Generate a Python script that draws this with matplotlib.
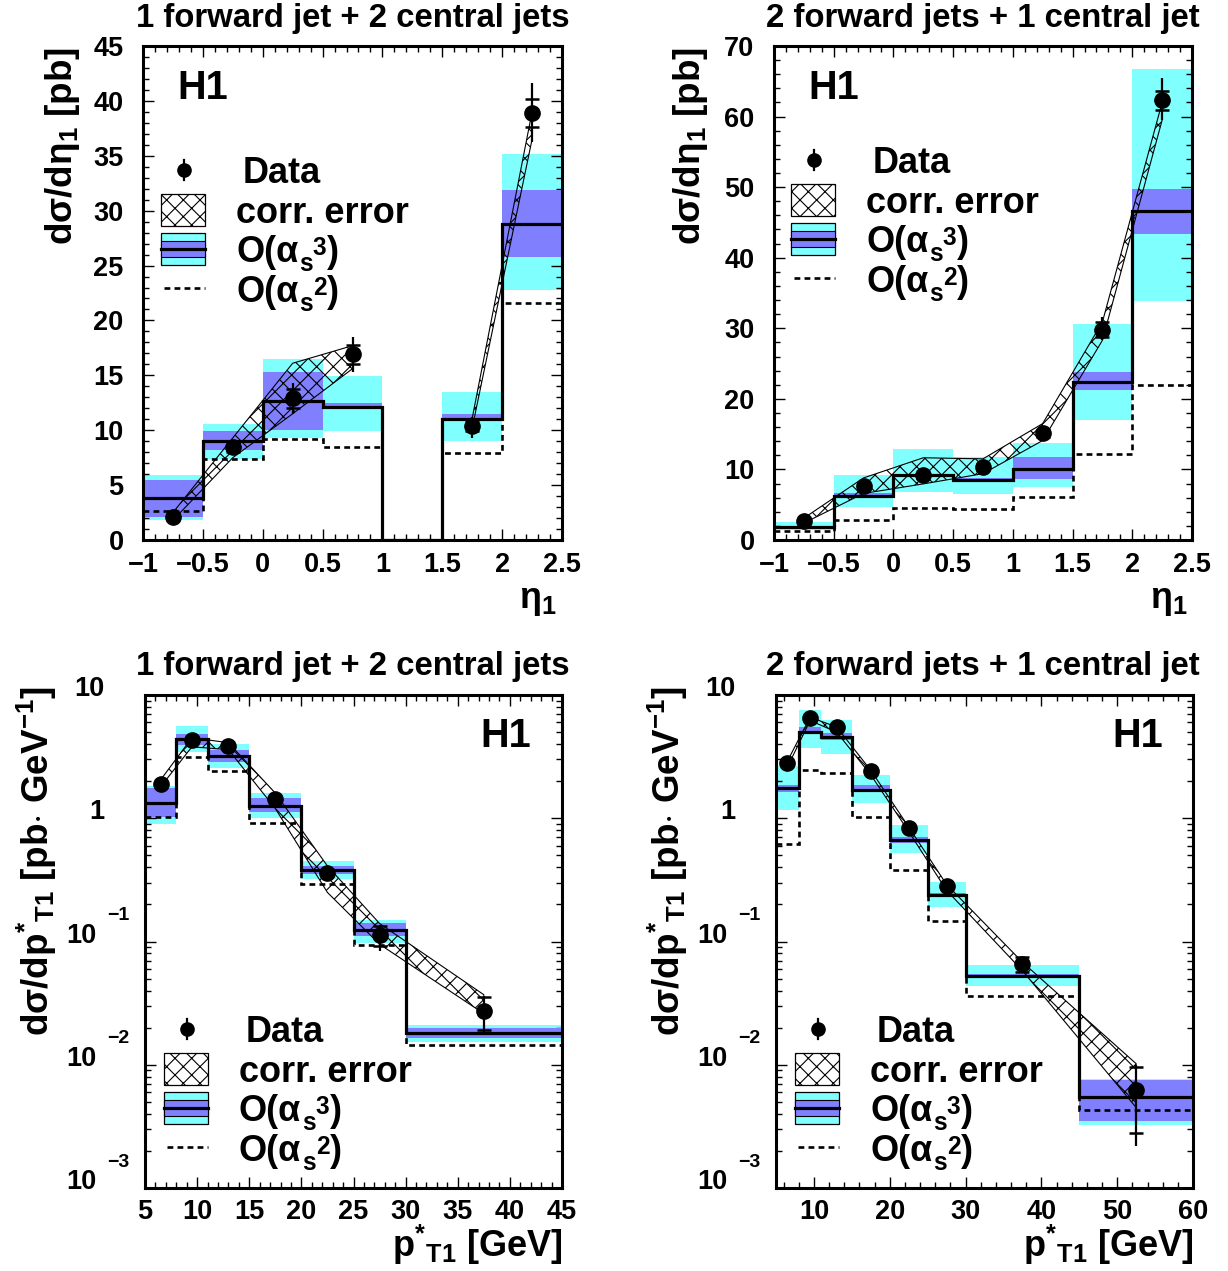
import numpy as np
import matplotlib
matplotlib.use('Agg')
import matplotlib.pyplot as plt
from matplotlib.patches import Rectangle
from matplotlib.lines import Line2D
from matplotlib.transforms import IdentityTransform
from matplotlib.ticker import MultipleLocator, FixedLocator, NullFormatter, FuncFormatter

plt.rcParams['font.family'] = ['Liberation Sans', 'DejaVu Sans']
plt.rcParams['font.weight'] = 'bold'
plt.rcParams['mathtext.fontset'] = 'custom'
plt.rcParams['mathtext.rm'] = 'Liberation Sans:bold'
plt.rcParams['mathtext.it'] = 'Liberation Sans:bold'
plt.rcParams['mathtext.bf'] = 'Liberation Sans:bold'
plt.rcParams['mathtext.sf'] = 'Liberation Sans:bold'
plt.rcParams['mathtext.default'] = 'rm'
plt.rcParams['hatch.linewidth'] = 0.8
plt.rcParams['axes.unicode_minus'] = True

nan = np.nan
CYAN = '#80ffff'
BLUE = '#8080ff'

# ---------------- data ----------------
titles = ['1 forward jet + 2 central jets', '2 forward jets + 1 central jet',
          '1 forward jet + 2 central jets', '2 forward jets + 1 central jet']

# (a) d sigma / d eta1, 1 forward + 2 central jets
eta_edges = [-1, -0.5, 0, 0.5, 1, 1.5, 2, 2.5]
a_nlo = [3.8, 9.0, 12.7, 12.1, 0, 11.0, 28.8]
a_tot_lo = [1.8, 7.4, 9.3, 9.9, nan, 9.0, 22.8]
a_tot_hi = [5.9, 10.6, 16.5, 14.9, nan, 13.5, 35.2]
a_scl_lo = [2.1, 8.2, 10.0, 12.0, nan, 10.9, 25.8]
a_scl_hi = [5.5, 9.9, 15.3, 12.5, nan, 11.5, 31.9]
a_lo = [2.6, 7.4, 9.2, 8.5, 0, 7.9, 21.6]
a_data = [2.1, 8.5, 12.9, 16.9, nan, 10.4, 38.9]
a_err_up = [0.4, 0.6, 1.4, 1.6, nan, 0.8, 2.7]
a_err_dn = [0.4, 0.6, 1.4, 1.6, nan, 1.1, 2.6]
a_stat = [0.3, 0.5, 0.85, 0.9, nan, 0.5, 1.25]
a_corr_lo = [1.8, 7.5, 11.5, 15.6, nan, 10.2, 36.5]
a_corr_hi = [2.5, 9.3, 16.1, 17.7, nan, 11.1, 39.0]

# (b) d sigma / d eta1, 2 forward + 1 central jet
b_nlo = [1.8, 6.3, 9.15, 8.5, 10.1, 22.4, 46.6]
b_tot_lo = [1.45, 4.65, 6.8, 6.55, 7.5, 17.05, 33.9]
b_tot_hi = [2.5, 9.15, 12.9, 11.7, 13.7, 30.6, 66.7]
b_scl_lo = [1.6, 6.0, 8.9, 8.2, 8.7, 21.2, 43.4]
b_scl_hi = [1.9, 6.6, 9.4, 8.8, 11.7, 23.8, 49.8]
b_lo = [1.25, 2.85, 4.5, 4.4, 6.1, 12.2, 22.0]
b_data = [2.75, 7.7, 9.15, 10.3, 15.15, 29.8, 62.3]
b_err_up = [0.4, 0.5, 0.6, 0.6, 0.8, 1.8, 3.1]
b_err_dn = [0.4, 0.5, 0.6, 0.6, 0.8, 1.5, 2.8]
b_stat = [0.2, 0.3, 0.4, 0.4, 0.5, 1.1, 1.3]
b_corr_lo = [2.4, 6.6, 7.95, 9.4, 14.1, 28.3, 59.5]
b_corr_hi = [3.1, 8.8, 11.65, 11.5, 16.5, 30.9, 62.0]

# (c) d sigma / d pT1*, 1 forward + 2 central jets
c_edges = [5, 8, 11, 15, 20, 25, 30, 45]
c_nlo = [1.32, 4.4, 3.2, 1.26, 0.381, 0.1245, 0.0181]
c_tot_lo = [0.90, 3.48, 2.54, 1.0, 0.32, 0.097, 0.0152]
c_tot_hi = [1.81, 5.6, 4.0, 1.6, 0.446, 0.15, 0.0211]
c_scl_lo = [1.03, 3.94, 2.88, 1.13, 0.354, 0.11, 0.0164]
c_scl_hi = [1.75, 4.83, 3.58, 1.45, 0.406, 0.1426, 0.0198]
c_lo = [1.03, 3.12, 2.44, 0.92, 0.294, 0.094, 0.0145]
c_data = [1.90, 4.31, 3.88, 1.43, 0.3625, 0.113, 0.0274]
c_err_up = [0.1, 0.2, 0.2, 0.08, 0.03, 0.023, 0.0086]
c_err_dn = [0.1, 0.2, 0.2, 0.08, 0.03, 0.030, 0.0093]
c_stat = [0.06, 0.12, 0.12, 0.05, 0.02, 0.021, 0.0082]
c_corr_lo = [1.8, 3.8, 3.6, 1.2, 0.25, 0.095, 0.026]
c_corr_hi = [2.05, 4.5, 4.1, 1.6, 0.41, 0.14, 0.037]

# (d) d sigma / d pT1*, 2 forward + 1 central jet
d_edges = [5, 8, 11, 15, 20, 25, 30, 45, 60]
d_nlo = [1.75, 5.05, 4.54, 1.70, 0.667, 0.239, 0.0527, 0.00547]
d_tot_lo = [1.17, 3.7, 3.33, 1.34, 0.527, 0.192, 0.0437, 0.00327]
d_tot_hi = [2.65, 7.55, 6.27, 2.24, 0.88, 0.306, 0.0647, 0.00769]
d_scl_lo = [1.62, 4.89, 4.32, 1.62, 0.635, 0.232, 0.0515, 0.0035]
d_scl_hi = [1.86, 5.53, 4.95, 1.86, 0.71, 0.246, 0.054, 0.00755]
d_lo = [0.615, 2.47, 2.34, 1.03, 0.381, 0.148, 0.0358, 0.00431]
d_data = [2.79, 6.47, 5.47, 2.42, 0.84, 0.284, 0.0654, 0.0062]
d_err_up = [0.15, 0.3, 0.25, 0.12, 0.04, 0.015, 0.005, 0.0038]
d_err_dn = [0.15, 0.3, 0.25, 0.12, 0.04, 0.015, 0.009, 0.0040]
d_stat = [0.1, 0.2, 0.15, 0.08, 0.03, 0.01, 0.009, 0.0034]
d_corr_lo = [2.6, 6.2, 5.0, 2.25, 0.78, 0.26, 0.058, 0.0045]
d_corr_hi = [2.9, 6.6, 5.5, 2.45, 0.85, 0.29, 0.068, 0.0102]

log_ticks = [1e-3, 1e-2, 1e-1, 1, 10]
log_bases = ['10', '10', '10', '1', '10']
log_exps = ['−3', '−2', '−1', '', '']

legend_labels = ['Data', 'corr. error']
alpha_orders = ['3', '2']

# ---------------- figure ----------------
W, H = 1228, 1271
fig = plt.figure(figsize=(W / 100, H / 100), dpi=100)
renderer = fig.canvas.get_renderer()
IDT = IdentityTransform()


def add_axes_px(x0, y0, x1, y1):
    ax = fig.add_axes([x0 / W, 1 - y1 / H, (x1 - x0) / W, (y1 - y0) / H])
    ax._pxbox = (x0, y0, x1, y1)
    return ax


def arr(v):
    return np.asarray(v, dtype=float)


def draw_panel(ax, edges, nlo, tlo, thi, slo, shi, lo, data, eu, ed, st, clo, chi):
    edges = arr(edges)
    cen = 0.5 * (edges[1:] + edges[:-1])
    wid = np.diff(edges)
    tlo, thi, slo, shi = arr(tlo), arr(thi), arr(slo), arr(shi)
    ok = np.isfinite(tlo)
    ax.bar(edges[:-1][ok], (thi - tlo)[ok], width=wid[ok], bottom=tlo[ok],
           align='edge', color=CYAN, lw=0, zorder=1)
    ok = np.isfinite(slo)
    ax.bar(edges[:-1][ok], (shi - slo)[ok], width=wid[ok], bottom=slo[ok],
           align='edge', color=BLUE, lw=0, zorder=2)
    ax.stairs(arr(lo), edges, baseline=None, color='k', lw=1.9,
              linestyle=(0, (2.2, 1.6)), zorder=3)
    ax.stairs(arr(nlo), edges, baseline=None, color='k', lw=2.3, zorder=4)
    ax.fill_between(cen, arr(clo), arr(chi), facecolor='none', edgecolor='k',
                    hatch='xx', lw=0.8, zorder=5)
    ax.errorbar(cen, arr(data), yerr=[arr(ed), arr(eu)], fmt='o', ms=11,
                color='k', elinewidth=1.6, capsize=0, zorder=6)
    ax.errorbar(cen, arr(data), yerr=arr(st), fmt='none', ecolor='k',
                elinewidth=0, capsize=4.8, capthick=1.8, zorder=6)


def style_axes(ax):
    for s in ax.spines.values():
        s.set_linewidth(2.2)
    ax.tick_params(which='both', direction='in', top=True, right=True,
                   width=1.0, labelsize=19.5)
    ax.tick_params(which='major', length=8)
    ax.tick_params(which='minor', length=4)


def fmt_g(v, p):
    return ('%g' % v).replace('-', '−')


def dtext(px, py, s, size, **kw):
    """text placed at a pixel position (from the top-left corner)"""
    return fig.text(px, H - py, s, transform=IDT, fontsize=size, **kw)


def alpha_label(px, baseline, order, size=26):
    t1 = dtext(px, baseline, 'O(α', size, ha='left', va='baseline')
    bb = t1.get_window_extent(renderer)
    xs = bb.x1 + 0.5
    ts = dtext(xs, baseline + 9, 's', size * 0.68, ha='left', va='baseline')
    xo = ts.get_window_extent(renderer).x1 + 0.5
    to = dtext(xo, baseline - 7, order, size * 0.68, ha='left', va='baseline')
    xe = to.get_window_extent(renderer).x1 + 0.5
    dtext(xe, baseline, ')', size, ha='left', va='baseline')


def draw_legend(ax, mx, my):
    x0, y0, x1, y1 = ax._pxbox

    def A(px, py):
        return ((px - x0) / (x1 - x0), (y1 - py) / (y1 - y0))

    T = ax.transAxes
    # data marker
    ax.add_line(Line2D(*zip(A(mx, my - 10), A(mx, my + 10)), transform=T,
                       color='k', lw=1.6, clip_on=False, zorder=10))
    ax.plot(*A(mx, my), 'o', ms=9.5, color='k', transform=T, clip_on=False, zorder=10)
    dtext(mx + 59, my + 13, legend_labels[0], 26, ha='left', va='baseline')
    # hatch box
    bx0, bx1 = mx - 23, mx + 21
    p0 = A(bx0, my + 56)
    p1 = A(bx1, my + 24)
    ax.add_patch(Rectangle(p0, p1[0] - p0[0], p1[1] - p0[1], transform=T,
                           facecolor='white', edgecolor='k', hatch='xx', lw=0.9,
                           clip_on=False, zorder=10))
    dtext(mx + 52, my + 53, legend_labels[1], 26, ha='left', va='baseline')
    # O(as^3) box
    p0 = A(bx0, my + 95)
    p1 = A(bx1, my + 63)
    ax.add_patch(Rectangle(p0, p1[0] - p0[0], p1[1] - p0[1], transform=T,
                           facecolor=CYAN, edgecolor='k', lw=0.9,
                           clip_on=False, zorder=10))
    q0 = A(bx0, my + 87)
    q1 = A(bx1, my + 71)
    ax.add_patch(Rectangle(q0, q1[0] - q0[0], q1[1] - q0[1], transform=T,
                           facecolor=BLUE, edgecolor='k', lw=0.8,
                           clip_on=False, zorder=10))
    ax.add_line(Line2D(*zip(A(bx0, my + 79), A(bx1, my + 79)), transform=T,
                       color='k', lw=2.3, clip_on=False, zorder=11))
    alpha_label(mx + 52, my + 92, alpha_orders[0])
    # O(as^2) dashed line
    ax.add_line(Line2D(*zip(A(bx0 + 3, my + 118), A(bx1, my + 118)), transform=T,
                       color='k', lw=1.9, linestyle=(0, (2.2, 1.6)),
                       clip_on=False, zorder=10))
    alpha_label(mx + 52, my + 132, alpha_orders[1])


# ---- panel a ----
axa = add_axes_px(143, 46, 562, 540)
draw_panel(axa, eta_edges, a_nlo, a_tot_lo, a_tot_hi, a_scl_lo, a_scl_hi, a_lo,
           a_data, a_err_up, a_err_dn, a_stat, a_corr_lo, a_corr_hi)
axa.set_xlim(-1, 2.5)
axa.set_ylim(0, 45)
axa.xaxis.set_major_locator(MultipleLocator(0.5))
axa.xaxis.set_minor_locator(MultipleLocator(0.1))
axa.yaxis.set_major_locator(MultipleLocator(5))
axa.yaxis.set_minor_locator(MultipleLocator(1))
axa.xaxis.set_major_formatter(FuncFormatter(fmt_g))
axa.yaxis.set_major_formatter(FuncFormatter(fmt_g))
style_axes(axa)
axa.tick_params(axis='y', pad=14)
axa.tick_params(axis='x', pad=9)
draw_legend(axa, 184, 170)
dtext(177, 88, 'H1', 28.5, ha='left', va='center')

# ---- panel b ----
axb = add_axes_px(774, 46, 1192, 540)
draw_panel(axb, eta_edges, b_nlo, b_tot_lo, b_tot_hi, b_scl_lo, b_scl_hi, b_lo,
           b_data, b_err_up, b_err_dn, b_stat, b_corr_lo, b_corr_hi)
axb.set_xlim(-1, 2.5)
axb.set_ylim(0, 70)
axb.xaxis.set_major_locator(MultipleLocator(0.5))
axb.xaxis.set_minor_locator(MultipleLocator(0.1))
axb.yaxis.set_major_locator(MultipleLocator(10))
axb.yaxis.set_minor_locator(MultipleLocator(2))
axb.xaxis.set_major_formatter(FuncFormatter(fmt_g))
axb.yaxis.set_major_formatter(FuncFormatter(fmt_g))
style_axes(axb)
axb.tick_params(axis='y', pad=14)
axb.tick_params(axis='x', pad=9)
draw_legend(axb, 814, 160)
dtext(808, 88, 'H1', 28.5, ha='left', va='center')


def log_labels(ax):
    ax.yaxis.set_major_locator(FixedLocator(log_ticks))
    ax.yaxis.set_major_formatter(NullFormatter())
    ax.yaxis.set_minor_formatter(NullFormatter())
    for v, b, e in zip(log_ticks, log_bases, log_exps):
        off = -49 if e else -41
        ax.annotate(b, xy=(0, v), xycoords=('axes fraction', 'data'),
                    xytext=(off / 1.389, 6 / 1.389), textcoords='offset points',
                    ha='right', va='center', fontsize=19.5)
        if e:
            ax.annotate(e, xy=(0, v), xycoords=('axes fraction', 'data'),
                        xytext=(-38 / 1.389, 26 / 1.389), textcoords='offset points',
                        ha='left', va='center', fontsize=14)


# ---- panel c ----
axc = add_axes_px(145, 695, 562, 1188)
draw_panel(axc, c_edges, c_nlo, c_tot_lo, c_tot_hi, c_scl_lo, c_scl_hi, c_lo,
           c_data, c_err_up, c_err_dn, c_stat, c_corr_lo, c_corr_hi)
axc.set_yscale('log')
axc.set_xlim(5, 45)
axc.set_ylim(1e-3, 10)
axc.xaxis.set_major_locator(MultipleLocator(5))
axc.xaxis.set_minor_locator(MultipleLocator(1))
axc.xaxis.set_major_formatter(FuncFormatter(fmt_g))
style_axes(axc)
axc.tick_params(axis='x', pad=8)
log_labels(axc)
draw_legend(axc, 187, 1029)
dtext(480, 736, 'H1', 28.5, ha='left', va='center')

# ---- panel d ----
axd = add_axes_px(776, 695, 1193, 1188)
draw_panel(axd, d_edges, d_nlo, d_tot_lo, d_tot_hi, d_scl_lo, d_scl_hi, d_lo,
           d_data, d_err_up, d_err_dn, d_stat, d_corr_lo, d_corr_hi)
axd.set_yscale('log')
axd.set_xlim(5, 60)
axd.set_ylim(1e-3, 10)
axd.xaxis.set_major_locator(MultipleLocator(10))
axd.xaxis.set_minor_locator(MultipleLocator(2))
axd.xaxis.set_major_formatter(FuncFormatter(fmt_g))
style_axes(axd)
axd.tick_params(axis='x', pad=8)
log_labels(axd)
draw_legend(axd, 818, 1029)
dtext(1112, 736, 'H1', 28.5, ha='left', va='center')

# ---- titles and axis labels ----
dtext(353, 18, titles[0], 23.7, ha='center', va='center')
dtext(983, 18, titles[1], 23.7, ha='center', va='center')
dtext(353, 667, titles[2], 23.7, ha='center', va='center')
dtext(983, 667, titles[3], 23.7, ha='center', va='center')

ylab_eta = r'dσ/dη$_{1}$ [pb]'
ylab_pt = r'dσ/dp$^{*}$$_{T1}$ [pb$\cdot$ GeV$^{-1}$]'
dtext(62, 47, ylab_eta, 26.5, rotation=90, ha='center', va='top')
dtext(691, 47, ylab_eta, 26.5, rotation=90, ha='center', va='top')
dtext(37, 686, ylab_pt, 26.5, rotation=90, ha='center', va='top')
dtext(668, 686, ylab_pt, 26.5, rotation=90, ha='center', va='top')

xlab_eta = r'η$_{1}$'
xlab_pt = r'p$^{*}$$_{T1}$ [GeV]'
dtext(557, 601, xlab_eta, 26, ha='right', va='center')
dtext(1188, 601, xlab_eta, 26, ha='right', va='center')
dtext(562, 1257, xlab_pt, 26, ha='right', va='baseline')
dtext(1193, 1257, xlab_pt, 26, ha='right', va='baseline')

fig.savefig('out.png', dpi=100)
